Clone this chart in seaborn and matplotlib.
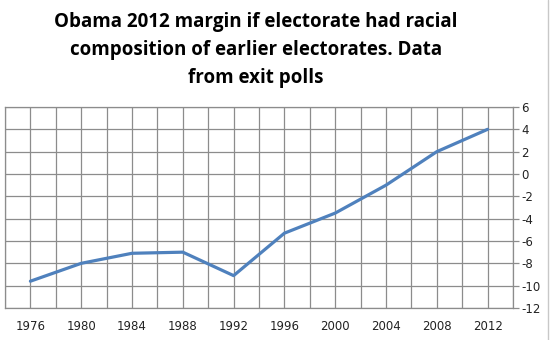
import matplotlib
matplotlib.use("Agg")
import matplotlib.pyplot as plt
import numpy as np
import pandas as pd
import seaborn as sns

years = ["1976", "1980", "1984", "1988", "1992", "1996", "2000", "2004", "2008", "2012"]
margin = [-9.6, -8.0, -7.1, -7.0, -9.1, -5.3, -3.5, -1.0, 2.0, 4.0]
y_ticks = [-12, -10, -8, -6, -4, -2, 0, 2, 4, 6]

title = "Obama 2012 margin if electorate had racial\ncomposition of earlier electorates. Data\nfrom exit polls"

sns.set_theme(style="white")
plt.rcParams["font.family"] = ["DejaVu Sans"]

df = pd.DataFrame({"pos": np.arange(len(years)), "margin": margin})

fig = plt.figure(figsize=(5.52, 3.40), dpi=100)
ax = fig.add_axes([5 / 552, 1 - 308 / 340, 508 / 552, 201 / 340])

sns.lineplot(data=df, x="pos", y="margin", ax=ax, color="#4F81BD",
             linewidth=2.3, zorder=3)

ax.set_xlim(-0.5, len(years) - 0.5)
ax.set_ylim(-12, 6)
ax.set_xticks(np.arange(len(years)))
ax.set_xticklabels(years)
ax.set_xticks(np.arange(-0.5, len(years), 1.0), minor=True)
ax.set_yticks(y_ticks)
ax.set_yticklabels([f"{v}" if v >= 0 else f"-{abs(v)}" for v in y_ticks])

ax.grid(True, which="both", axis="x", color="#8c8c8c", linewidth=0.9)
ax.grid(True, which="major", axis="y", color="#8c8c8c", linewidth=0.9)
ax.set_axisbelow(True)

ax.yaxis.tick_right()
ax.tick_params(axis="y", which="major", direction="out", length=4, width=0.9,
               color="#8c8c8c", labelsize=8.5, pad=2, labelcolor="#222222")
ax.tick_params(axis="x", which="both", length=0, labelsize=8.5, pad=9,
               labelcolor="#222222")
ax.set_xlabel("")
ax.set_ylabel("")
for s in ax.spines.values():
    s.set_color("#8c8c8c")
    s.set_linewidth(0.9)

fig.text(256 / 552, 1 - 50 / 340, title, ha="center", va="center",
         fontsize=13.5, fontweight="bold", family=["Open Sans"],
         linespacing=1.5, color="#000000")

# outer chart border on the right edge
fig.add_artist(plt.Line2D([548 / 552, 548 / 552], [0, 1], color="#c8c8c8",
                          linewidth=1.0, transform=fig.transFigure))

fig.savefig("out.png", dpi=100, facecolor="white")
